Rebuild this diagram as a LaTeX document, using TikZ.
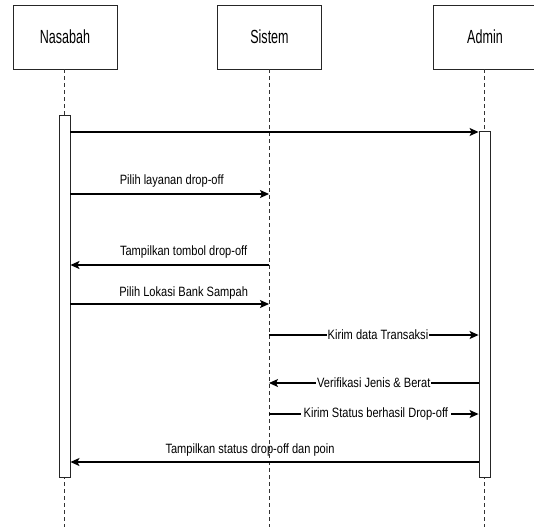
\documentclass[tikz,border=0pt]{standalone}
\usepackage{fontspec}
\setmainfont{Liberation Sans}
\newfontfamily\hdrfont[FakeStretch=0.66]{Liberation Sans}
\newfontfamily\msgfont[FakeStretch=0.82]{Liberation Sans}
\usetikzlibrary{arrows.meta}
\begin{document}
\begin{tikzpicture}[x=1pt,y=-1pt,
  actor/.style={draw=black!85, line width=0.9pt, fill=white, minimum width=104pt, minimum height=64pt, inner sep=0pt, font=\hdrfont\fontsize{19}{20}\selectfont},
  life/.style={draw=black!80, line width=0.8pt, dash pattern=on 4pt off 3pt},
  actbar/.style={draw=black!85, line width=0.9pt, fill=white, minimum width=11pt, inner sep=0pt},
  msg/.style={draw=black, line width=1.2pt, -{Stealth[length=9pt,width=8pt,inset=2pt]}},
  lbl/.style={font=\msgfont\fontsize{13.5}{15}\selectfont, inner sep=0pt},
  onlbl/.style={lbl, fill=white, inner xsep=1pt, inner ysep=1pt, anchor=center}
]
\useasboundingbox[fill=white] (0,0) rectangle (534,527);

% actor heads
\node[actor] (nas) at (65,37) {Nasabah};
\node[actor] (sis) at (269.5,37) {Sistem};
\node[actor] (adm) at (485,37) {Admin};

% lifeline ends
\coordinate (nasend) at (64.5,527);
\coordinate (sisend) at (269,527);
\coordinate (admend) at (484.5,527);
\draw[life] (nas.south -| nasend) -- (nasend);
\draw[life] (sis.south -| sisend) -- (sisend);
\draw[life] (adm.south -| admend) -- (admend);

% activation bars
\node[actbar, minimum height=362pt] (nact) at (64.5,296) {};
\node[actbar, minimum height=346pt] (aact) at (484.5,304) {};

% messages
\draw[msg] (nact.east |- 0,132) -- (aact.west |- 0,132);

\draw[msg] (nact.east |- 0,194) -- node[lbl, pos=0.51, anchor=base, yshift=10pt] {Pilih layanan drop-off} (sisend |- 0,194);

\draw[msg] (sisend |- 0,265) -- node[lbl, pos=0.43, anchor=base, yshift=10pt] {Tampilkan tombol drop-off} (nact.east |- 0,265);

\draw[msg] (nact.east |- 0,304) -- node[lbl, pos=0.57, anchor=base, yshift=8pt] {Pilih Lokasi Bank Sampah} (sisend |- 0,304);

\draw[msg] (sisend |- 0,335) -- node[onlbl, pos=0.52] {Kirim data Transaksi} (aact.west |- 0,335);

\draw[msg] (aact.west |- 0,383) -- node[onlbl, pos=0.50] {Verifikasi Jenis \& Berat} (sisend |- 0,383);

\draw[msg] (sisend |- 0,414) -- node[onlbl, pos=0.51, inner xsep=3pt] {Kirim Status berhasil Drop-off} (aact.west |- 0,414);

\draw[msg] (aact.west |- 0,462) -- node[lbl, pos=0.56, anchor=base, yshift=9pt] {Tampilkan status drop-off dan poin} (nact.east |- 0,462);
\end{tikzpicture}
\end{document}
